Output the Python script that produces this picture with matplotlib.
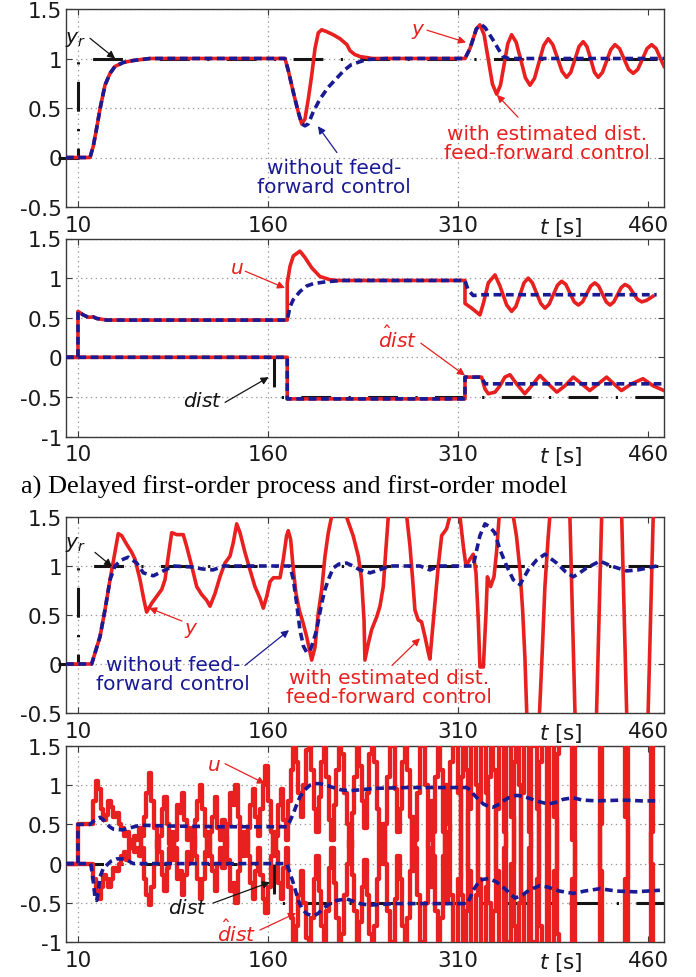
import numpy as np
import matplotlib
matplotlib.use('Agg')
from matplotlib import pyplot as plt
from matplotlib import transforms

plt.rcParams['font.family'] = ['DejaVu Sans']
plt.rcParams['mathtext.fontset'] = 'dejavusans'
plt.rcParams['axes.unicode_minus'] = False
plt.rcParams['lines.scale_dashes'] = False

RED = '#e8201f'
BLUE = '#1a1a94'
BLACK = '#141414'
GRID = '#9c9c9c'
FRAME = '#3a3a3a'

x_ticks = [10, 160, 310, 460]
x_labels = ['10', '160', '310', '460']
y_ticks_a = [-0.5, 0, 0.5, 1, 1.5]
y_labels_a = ['-0.5', '0', '0.5', '1', '1.5']
y_ticks_b = [-1, -0.5, 0, 0.5, 1, 1.5]
y_labels_b = ['-1', '-0.5', '0', '0.5', '1', '1.5']

# reference y_r and disturbance dist (black dash-dot)
yr_t = [-5.8, 10, 10, 472.6]
yr_v = [0, 0, 1, 1]
dist_t = [0.5, 164.7, 164.7, 472.6]
dist_v = [0, 0, -0.5, -0.5]

# ---- a) top: output y ----
a_y_ff_t = [0.5, 19.5, 22.1, 24.8, 27.4, 31.3, 35.3, 39.2, 45.8, 53.7,
            66.9, 173.4, 176.0, 178.7, 181.3, 183.9, 186.6, 189.2, 191.8, 194.5,
            197.1, 199.7, 202.4, 206.5, 211.5, 216.8, 222.3, 224.7, 228.5, 232.6,
            237.5, 242.8, 315.5, 319.4, 322.0, 324.5, 327.3, 330.6, 333.9, 337.2,
            340.5, 343.5, 346.4, 349.3, 352.3, 355.9, 359.6, 363.2, 366.8, 370.4,
            374.0, 377.6, 381.2, 384.8, 388.5, 392.1, 395.7, 399.0, 402.3, 405.5,
            408.8, 411.8, 414.8, 417.7, 420.7, 424.0, 427.3, 430.6, 433.9, 437.5,
            441.1, 444.7, 448.3, 451.9, 455.6, 459.2, 462.8, 466.4, 470.0, 472.6]
a_y_ff_v = [0, 0, .115, .30, .49, .73, .85, .92, .96, .98,
            1.0, 1.0, .88, .73, .59, .46, .34, .39, .59, .83,
            1.10, 1.26, 1.29, 1.27, 1.24, 1.20, 1.14, 1.08, 1.04, 1.02,
            1.01, 1.0, 1.0, 1.10, 1.20, 1.30, 1.34, 1.24, .99, .74,
            .64, .73, .94, 1.15, 1.24, 1.165, .985, .805, .73, .80,
            .965, 1.13, 1.20, 1.14, 1.005, .87, .81, .86, .99, 1.12,
            1.17, 1.12, .99, .86, .81, .86, .975, 1.09, 1.14, 1.10,
            .995, .89, .85, .89, .995, 1.10, 1.14, 1.10, .995, .92]
a_y_nf_t = [0.5, 19.5, 22.1, 24.8, 27.4, 31.3, 35.3, 39.2, 45.8, 53.7,
            66.9, 173.4, 176.0, 178.7, 181.3, 183.9, 186.6, 189.2, 191.8, 195.7,
            201.0, 207.6, 214.2, 220.0, 226.0, 238.0, 254.0, 315.5, 319.4, 322.0,
            324.5, 328.6, 331.5, 335.0, 338.5, 341.6, 345.5, 350.0, 472.6]
a_y_nf_v = [0, 0, .115, .30, .49, .73, .85, .92, .96, .98,
            1.0, 1.0, .88, .73, .59, .46, .34, .32, .34, .46,
            .59, .71, .80, .88, .94, .99, 1.0, 1.0, 1.10, 1.20,
            1.30, 1.34, 1.31, 1.24, 1.17, 1.10, 1.02, 1.0, 1.0]

# ---- a) bottom: control u and disturbance estimate ----
a_u_ff_t = [0.5, 10, 10, 14.2, 18.2, 22.1, 24.8, 32.7, 175.2, 175.2,
            177.4, 180.0, 185.2, 189.2, 194.5, 201.0, 208.9, 215.0, 315.5, 315.5,
            320.8, 327.3, 330.0, 333.9, 339.2, 343.1, 348.4, 352.3, 355.6, 358.9,
            362.1, 365.4, 368.7, 372.0, 375.3, 378.6, 381.9, 385.2, 388.5, 391.8,
            395.1, 398.4, 401.7, 405.0, 408.3, 411.5, 414.8, 418.0, 421.0, 424.0,
            427.0, 430.0, 433.0, 435.9, 438.8, 441.8, 445.1, 448.4, 451.7, 455.0,
            459.0, 463.8]
a_u_ff_v = [0, 0, .58, .535, .505, .51, .49, .47, .47, .94,
            1.15, 1.28, 1.34, 1.26, 1.13, 1.02, .98, .97, .97, .68,
            .62, .535, .68, .94, 1.04, .90, .66, .58, .64, .79,
            .94, 1.0, .94, .81, .68, .62, .67, .79, .91, .96,
            .92, .81, .70, .66, .70, .80, .90, .94, .90, .80,
            .70, .66, .70, .79, .88, .92, .89, .81, .73, .70,
            .72, .77]
a_u_nf_t = [0.5, 10, 10, 14.2, 18.2, 22.1, 24.8, 32.7, 175.2, 177.4,
            180.0, 185.2, 190.5, 195.7, 206.3, 219.4, 315.5, 318.0, 322.0, 330.0,
            350.0, 400.0, 466.8]
a_u_nf_v = [0, 0, .58, .535, .505, .51, .49, .47, .47, .64,
            .73, .83, .90, .93, .955, .97, .97, .85, .78, .79,
            .79, .79, .79]
a_d_ff_t = [0.5, 175.2, 175.2, 315.5, 315.5, 328.6, 331.3, 333.9, 339.2, 343.1,
            347.0, 351.0, 356.2, 362.7, 368.1, 374.6, 381.2, 388.0, 394.4, 401.0,
            407.6, 414.0, 420.7, 427.3, 433.0, 439.0, 447.0, 456.0, 464.0, 472.6]
a_d_ff_v = [0, 0, -.525, -.525, -.25, -.25, -.40, -.46, -.44, -.36,
            -.25, -.22, -.335, -.46, -.36, -.23, -.335, -.44, -.36, -.25,
            -.335, -.42, -.335, -.25, -.335, -.42, -.335, -.27, -.36, -.42]
a_d_nf_t = [0.5, 175.2, 175.2, 315.5, 315.5, 328.6, 331.3, 472.6]
a_d_nf_v = [0, 0, -.525, -.525, -.25, -.25, -.335, -.335]

# ---- b) top: output y ----
b_y_ff_t = [0.5, 20.8, 27.4, 31.3, 35.3, 39.2, 41.8, 44.5, 48.5, 52.4,
            55.0, 59.0, 62.1, 64.2, 68.2, 72.1, 76.1, 78.7, 81.3, 84.0,
            88.0, 93.1, 95.8, 99.8, 103.7, 107.6, 111.6, 114.2, 118.2, 122.1,
            126.0, 130.0, 132.6, 135.3, 137.9, 141.8, 145.8, 149.7, 153.7, 156.3,
            159.0, 161.6, 164.2, 169.5, 172.1, 174.7, 176.0, 177.9, 180.0, 182.1,
            184.7, 187.9, 190.5, 194.5, 197.1, 199.7, 202.4, 205.0, 207.6, 210.3,
            215.0, 222.0, 227.2, 231.3, 233.9, 235.8, 236.5, 239.2, 241.8, 245.8,
            248.4, 251.0, 252.9, 255.0, 262.0, 269.5, 272.1, 274.2, 276.0, 278.6,
            281.2, 283.9, 286.5, 287.8, 289.9, 291.8, 294.4, 297.1, 301.0, 303.6,
            307.0, 311.5, 314.2, 316.3, 319.4, 322.0, 324.2, 326.0, 327.3, 330.0,
            332.1, 333.2, 335.7, 338.4, 340.4, 342.5, 348.0, 353.6, 356.2, 358.9,
            361.0, 362.8, 364.2, 369.0, 374.4, 376.4, 378.6, 381.2, 382.5, 391.0,
            398.3, 402.3, 410.0, 419.4, 423.4, 431.0, 439.2, 443.1, 452.0, 460.1,
            464.1, 472.6]
b_y_ff_v = [0, 0, .28, .55, .86, 1.14, 1.33, 1.31, 1.22, 1.14,
            1.07, .86, .65, .53, .62, .69, .76, .86, 1.10, 1.34,
            1.32, 1.32, 1.20, 1.0, .79, .71, .65, .59, .72, .89,
            1.03, 1.10, 1.24, 1.43, 1.34, 1.14, .96, .79, .67, .57,
            .69, .84, .88, .88, 1.07, 1.31, 1.36, 1.27, .96, .72,
            .55, .41, .28, .04, .17, .52, .76, 1.10, 1.34, 1.51,
            1.75, 1.50, 1.31, 1.10, .86, .45, .04, .21, .35, .48,
            .59, .79, 1.14, 1.51, 1.8, 1.51, 1.20, .86, .55, .45,
            .43, .28, .12, .05, .35, .62, 1.0, 1.31, 1.38, 1.51,
            1.6, 1.51, 1.20, 1.0, 1.07, 1.12, .93, .45, -.03, -.03,
            .52, .89, .79, .89, 1.14, 1.51, 1.9, 1.51, 1.30, .96,
            .55, .07, -.48, -1.5, -.48, .10, .79, 1.30, 1.51, 3.0,
            1.51, -.48, -3.0, -.48, 1.51, 3.0, 1.51, -.48, -3.0, -.48,
            1.51, 3.0]
b_y_nf_t = [0.5, 20.8, 27.4, 31.3, 35.3, 39.2, 44.0, 49.7, 56.4, 61.6,
            69.5, 77.3, 85.2, 100.0, 108.0, 116.6, 125.0, 177.4, 180.0, 182.6,
            185.2, 188.0, 190.5, 193.0, 195.5, 198.4, 202.4, 205.0, 207.6, 211.5,
            216.0, 222.0, 227.0, 232.6, 240.5, 248.0, 256.0, 280.0, 287.8, 295.0,
            322.0, 325.0, 327.3, 331.3, 335.0, 339.0, 343.0, 348.4, 353.6, 358.9,
            365.4, 372.0, 378.6, 387.9, 395.0, 401.0, 406.0, 411.5, 422.0, 431.0,
            443.0, 452.0, 466.8]
b_y_nf_v = [0, 0, .28, .55, .86, 1.0, 1.06, 1.09, 1.03, .93,
            .90, .95, 1.0, .99, .97, .96, 1.0, 1.0, .86, .62,
            .35, .18, .12, .13, .22, .35, .62, .76, .86, .98,
            1.02, 1.03, 1.0, .96, .93, .96, 1.0, 1.0, .96, 1.0,
            1.0, 1.18, 1.31, 1.43, 1.40, 1.34, 1.17, 1.0, .86, .81,
            .96, 1.06, 1.12, 1.03, .94, .89, .93, .98, 1.05, 1.0,
            .95, .96, 1.0]

# ---- b) bottom: control u and disturbance estimate ----
b_u_nf_t = [0.5, 10, 10, 19.5, 23.0, 27.4, 30.0, 32.7, 35.0, 37.9,
            45.0, 52.0, 59.0, 80.0, 120.0, 174.7, 177.0, 180.0, 182.6, 185.2,
            189.0, 193.1, 197.0, 201.0, 206.0, 211.5, 218.0, 224.7, 232.0, 245.0,
            270.0, 316.8, 319.5, 322.0, 326.0, 330.0, 334.0, 337.8, 341.5, 345.7,
            350.0, 356.2, 361.0, 366.8, 374.0, 381.2, 387.0, 393.0, 401.0, 408.0,
            420.0, 440.0, 455.0, 469.4]
b_u_nf_v = [0, 0, .5, .5, .55, .59, .56, .51, .47, .44,
            .43, .46, .49, .48, .47, .47, .53, .64, .75, .85,
            .94, 1.0, 1.02, 1.02, 1.0, .97, .94, .93, .94, .96,
            .97, .97, .94, .89, .82, .76, .73, .72, .75, .80,
            .84, .87, .86, .83, .79, .76, .78, .82, .84, .81,
            .80, .81, .80, .80]
b_d_nf_t = [0.5, 20.0, 21.5, 23.4, 24.8, 26.0, 27.4, 30.0, 32.7, 36.0,
            40.6, 47.0, 53.7, 174.7, 177.0, 180.0, 183.9, 187.0, 190.5, 194.0,
            197.0, 200.0, 203.6, 208.0, 214.2, 222.0, 232.6, 240.0, 260.0, 316.8,
            319.5, 322.0, 327.3, 333.9, 340.0, 347.0, 355.0, 361.0, 366.0, 374.6,
            381.0, 390.0, 401.0, 410.0, 422.0, 435.0, 450.0, 469.4]
b_d_nf_v = [0, 0, -.15, -.42, -.47, -.36, -.17, -.06, -.02, .03,
            .06, .06, 0, 0, -.1, -.25, -.47, -.58, -.64, -.66,
            -.66, -.63, -.57, -.52, -.47, -.45, -.51, -.53, -.51, -.51,
            -.44, -.34, -.21, -.19, -.23, -.32, -.44, -.40, -.34, -.28,
            -.30, -.35, -.38, -.35, -.32, -.35, -.36, -.34]

# sampled (zero-order hold) red signals, one value every 2 s from t = 10 s
b_ff_t0 = 10.0
b_ff_dt = 2.0
b_u_ff = [.5, .5, .5, .5, .5,
          .5, .8, 1.05, .95, .7, .55, .62, .8, .72, .6,
          .65, .5, .45, .35, .4, .25, .3, .15, .2, .1, .35,
          .6, .9, 1.15, .8, .45, .2, .35, .7, .85, .5,
          .25, .05, .3, .75, .65, .9, .55, .3, .45, .2,
          .55, .8, 1.0, .7, .35, .1, .4, .6, .85, .45,
          .3, .55, .2, .5, .9, .75, 1.0, .6, .25, .4,
          .15, .45, .75, .95, .6, .35, .7, 1.0, 1.25, .8,
          .4, .1, .35, .75, .95, .55, .3,
          .8, 1.2, 1.6, 1.3, .9, .6, 1.0, 1.45, 1.7, 1.2,
          .7, .4, .85, 1.3, 1.6, 1.1, .55, .3, .75, 1.2,
          1.7, 1.4, .9, .5, .2, .65, 1.1, 1.6, 1.25, .8,
          .45, .9, 1.4, 1.7, 1.3, .7, .25, 0, .5, 1.1,
          1.7, 1.5, .95, .4, .7, 1.3, 1.7, 1.2, .6, -.1,
          .3, .9, 1.5, 1.7, 1.0, .2, -.3, .4, 1.1, 1.7,
          1.2, .4, -.5,
          .4, 1.3, 1.9, 1.9, .9, -.4, -1.4, -.6, .7, 1.9,
          1.9, 1.0, -.2, -1.4, -1.4, -.3, 1.1, 1.9, 1.2, -.1,
          -1.4, -1.4, .2, 1.6, 1.9, .6, -.8, -1.4, -.5, .9,
          1.9, 1.9, .4, -1.0, -1.4, -.2, 1.3, 1.9, 1.9, .3,
          -1.4, -1.4, -.1, 1.4, 1.9, 1.9, 1.9, 1.9, 1.9, .3,
          -1.4, -1.4, -1.4, -1.4, -1.4, -1.4, -1.4, -1.4, -1.4, -1.4,
          .5, 1.9, 1.9, 1.9, 1.9, 1.9, 1.9, 1.9, 1.9, 1.9,
          .6, -1.4, -1.4, -1.4, -1.4, -1.4, -1.4, -1.4, -1.4, -1.4,
          .4, 1.9, 1.9, 1.9, 1.9]
b_d_ff = [0, 0, 0, 0, 0,
          0, -.2, -.35, -.45, -.3, -.15, -.2, -.3, -.2, -.05,
          -.1, 0, .1, .15, .05, .25, .2, .35, .3, .45, .2,
          -.2, -.4, -.53, -.3, 0, .3, .15, -.15, -.35, -.05,
          .2, .4, .2, -.2, -.1, -.4, -.15, .15, .05, .35,
          .1, -.2, -.45, -.2, .15, .4, .1, -.1, -.35, 0,
          .2, -.05, .35, .05, -.35, -.25, -.5, -.1, .25, .1,
          .4, .1, -.25, -.45, -.1, .2, -.15, -.45, -.63, -.3,
          .1, .4, .15, -.25, -.45, -.05, .2,
          -.3, -.7, -1.1, -.8, -.4, -.1, -.5, -.95, -1.2, -.7,
          -.2, .1, -.35, -.8, -1.1, -.6, -.05, .2, -.25, -.7,
          -1.2, -.9, -.4, 0, .3, -.15, -.6, -1.1, -.75, -.3,
          .05, -.4, -.9, -1.2, -.8, -.2, .25, .5, 0, -.6,
          -1.2, -1.0, -.45, .1, -.2, -.8, -1.2, -.7, -.1, .6,
          .2, -.4, -1.0, -1.2, -.5, .3, .8, .1, -.6, -1.2,
          -.7, .1, 1.0,
          .5, -.4, -1.3, -1.3, -.2, 1.1, 1.8, 1.2, -.1, -1.3,
          -1.3, -.4, .8, 1.8, 1.8, .9, -.5, -1.3, -.6, .7,
          1.8, 1.8, .4, -1.0, -1.3, 0, 1.3, 1.8, 1.0, -.4,
          -1.3, -1.3, .2, 1.5, 1.8, .7, -.8, -1.3, -1.3, .3,
          1.8, 1.8, .6, -.9, -1.3, -1.3, -1.3, -1.3, -1.3, -.2,
          1.8, 1.8, 1.8, 1.8, 1.8, 1.8, 1.8, 1.8, 1.8, 1.8,
          -.1, -1.3, -1.3, -1.3, -1.3, -1.3, -1.3, -1.3, -1.3, -1.3,
          -.2, 1.8, 1.8, 1.8, 1.8, 1.8, 1.8, 1.8, 1.8, 1.8,
          0, -1.3, -1.3, -1.3, -1.3]

DASHDOT = (0, (21.5, 12.5, 1.6, 12.5))
DASHDOT_DIST = (42.6, (21.5, 12.5, 1.6, 12.5))
BLUEDASH = (0, (5.6, 3.3))


def setup(ax, yticks, ylabels):
    ax.set_xlim(0.55, 472.6)
    ax.set_ylim(yticks[0], yticks[-1])
    ax.set_xticks(x_ticks)
    ax.set_xticklabels(x_labels)
    ax.set_yticks(yticks)
    ax.set_yticklabels(ylabels)
    ax.tick_params(direction='in', top=True, right=True, length=4, width=0.8,
                   colors=FRAME, labelcolor='#1a1a1a', labelsize=15.5)
    ax.tick_params(axis='x', pad=5.5)
    ax.tick_params(axis='y', pad=3)
    ax.grid(True, linestyle=(0, (1, 2.5)), color=GRID, linewidth=0.9)
    ax.get_xgridlines()[-1].set_visible(False)
    for sp in ax.spines.values():
        sp.set_color(FRAME)
        sp.set_linewidth(1.0)
    trans = transforms.offset_copy(
        transforms.blended_transform_factory(ax.transData, ax.transAxes),
        fig=ax.figure, y=-5.5, units='points')
    ax.text(391.2, 0, '$t$ [s]', transform=trans, ha='center', va='top',
            fontsize=15.5, color='#1a1a1a')


def label(ax, text, pos, tail, head, color):
    ax.text(pos[0], pos[1], text, color=color, fontsize=14.5, ha='center',
            va='center', multialignment='center', linespacing=1.0, zorder=6)
    ax.annotate('', xy=head, xytext=tail, zorder=6,
                arrowprops=dict(arrowstyle='-|>', color=color, lw=0.9,
                                shrinkA=0, shrinkB=0, mutation_scale=11))


def black(ax, t, v, style=DASHDOT, stub=False):
    ax.plot(t, v, color=BLACK, lw=2.2, linestyle=style, zorder=2,
            clip_on=not stub)


def red(ax, t, v, lw=2.6, **kw):
    ax.plot(t, v, color=RED, lw=lw, zorder=3, solid_joinstyle='round', **kw)


def blue(ax, t, v):
    ax.plot(t, v, color=BLUE, lw=2.6, linestyle=BLUEDASH, zorder=4)


fig = plt.figure(figsize=(6.96, 9.78), dpi=100)
L, W = 66 / 696, 598 / 696


def add_axes(top_px, bot_px):
    return fig.add_axes([L, 1 - bot_px / 978, W, (bot_px - top_px) / 978])


ax1 = add_axes(10, 208)
ax2 = add_axes(239.5, 437.5)
ax3 = add_axes(518, 714)
ax4 = add_axes(747, 943)

# panel 1
black(ax1, yr_t, yr_v, stub=True)
red(ax1, a_y_ff_t, a_y_ff_v)
blue(ax1, a_y_nf_t, a_y_nf_v)
setup(ax1, y_ticks_a, y_labels_a)
label(ax1, '$y_r$', (8.4, 1.20), (19.5, 1.204), (39.3, 1.0), BLACK)
label(ax1, 'without feed-\nforward control', (212.1, -0.194),
      (214.4, 0.05), (199.4, 0.316), BLUE)
label(ax1, 'with estimated dist.\nfeed-forward control', (380.2, 0.148),
      (357.3, 0.408), (340.7, 0.633), RED)
label(ax1, '$y$', (278.3, 1.286), (285.5, 1.286), (316.3, 1.163), RED)

# panel 2
black(ax2, dist_t, dist_v, style=DASHDOT_DIST)
red(ax2, a_u_ff_t, a_u_ff_v)
red(ax2, a_d_ff_t, a_d_ff_v)
blue(ax2, a_u_nf_t, a_u_nf_v)
blue(ax2, a_d_nf_t, a_d_nf_v)
setup(ax2, y_ticks_b, y_labels_b)
label(ax2, '$u$', (135.7, 1.134), (142, 1.087), (173.4, 0.875), RED)
label(ax2, '$dist$', (108.8, -0.548), (126.1, -0.569), (160.5, -0.251), BLACK)
label(ax2, r'$\hat{d}ist$', (262.6, 0.248), (280.7, 0.178), (315.5, -0.229), RED)

# caption
fig.text(21 / 696, 1 - 494 / 978,
         'a) Delayed first-order process and first-order model',
         family='Liberation Serif', fontsize=19, ha='left', va='baseline')

# panel 3
black(ax3, yr_t, yr_v, stub=True)
red(ax3, b_y_ff_t, b_y_ff_v)
blue(ax3, b_y_nf_t, b_y_nf_v)
setup(ax3, y_ticks_a, y_labels_a)
label(ax3, '$y_r$', (8.4, 1.232), (23.4, 1.139), (36.9, 0.995), BLACK)
label(ax3, '$y$', (99.2, 0.356), (92.1, 0.438), (66.1, 0.572), RED)
label(ax3, 'without feed-\nforward control', (85, -0.098),
      (141.8, -0.015), (176.6, 0.345), BLUE)
label(ax3, 'with estimated dist.\nfeed-forward control', (255.5, -0.237),
      (257.9, -0.015), (280, 0.263), RED)

# panel 4
b_ff_t = [0.5] + list(b_ff_t0 + b_ff_dt * np.arange(len(b_u_ff)))
black(ax4, dist_t, dist_v, style=DASHDOT_DIST)
red(ax4, b_ff_t, [0] + b_u_ff, lw=3.1, drawstyle='steps-post')
red(ax4, b_ff_t, [0] + b_d_ff, lw=3.1, drawstyle='steps-post')
blue(ax4, b_u_nf_t, b_u_nf_v)
blue(ax4, b_d_nf_t, b_d_nf_v)
setup(ax4, y_ticks_b, y_labels_b)
label(ax4, '$u$', (117.4, 1.262), (126.1, 1.274), (157.6, 1.02), RED)
label(ax4, '$dist$', (96.8, -0.555), (116.6, -0.504), (161.6, -0.237), BLACK)
label(ax4, r'$\hat{d}ist$', (135.5, -0.872), (153.7, -0.847), (182.1, -0.631), RED)

fig.savefig('out.png', dpi=100, facecolor='white')
